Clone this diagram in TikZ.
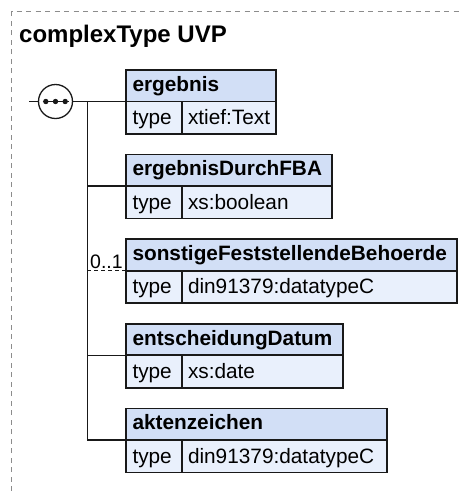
\documentclass[tikz,border=0pt]{standalone}
\usepackage{fontspec}
\setmainfont{Liberation Sans}
\definecolor{hdrfill}{RGB}{210,223,246}
\definecolor{bodyfill}{RGB}{233,240,252}
\definecolor{linec}{RGB}{25,25,25}
\definecolor{dashc}{RGB}{140,140,140}
\tikzset{
  boxline/.style={draw=linec, line width=1.7pt, outer sep=0pt, inner ysep=0pt},
  hdr/.style={boxline, fill=hdrfill, anchor=north west, minimum height=31.5pt,
    inner xsep=6.5pt, align=left, text height=11pt, text depth=0pt,
    font=\bfseries\fontsize{20.8}{24}\selectfont},
  typecell/.style={boxline, fill=bodyfill, anchor=north west, minimum height=32.5pt,
    inner xsep=6.5pt, text width=43pt, align=left, text height=14pt, text depth=0pt,
    font=\fontsize{20.8}{24}\selectfont},
  valcell/.style={boxline, fill=bodyfill, anchor=north west, minimum height=32.5pt,
    inner xsep=6pt, align=left, text height=14pt, text depth=0pt,
    font=\fontsize{20.8}{24}\selectfont},
  conn/.style={draw=linec, line width=1.3pt},
  optconn/.style={conn, dash pattern=on 4pt off 3pt},
  seqnode/.style={circle, draw=linec, fill=white, line width=1.3pt, minimum size=34pt, inner sep=0pt},
  occ/.style={anchor=base west, inner sep=0pt, font=\fontsize{19.5}{22}\selectfont},
  titletext/.style={anchor=base west, inner sep=0pt, font=\bfseries\fontsize{24}{28}\selectfont}
}
\newcommand\elembox[5]{%
  \node[hdr, text width=#3pt-139pt] (#1h) at (126,#2) {#4};
  \node[typecell] (#1t) at (#1h.south west) {type};
  \node[valcell, text width=#3pt-194pt] (#1v) at (#1t.north east) {#5};
}
\begin{document}
\begin{tikzpicture}[x=1pt,y=-1pt]
\useasboundingbox (0,0) rectangle (459,491);
\draw[dashc, line width=1.2pt, dash pattern=on 5pt off 4.5pt] (11.5,491) -- (11.5,11.5) -- (459,11.5);
\node[titletext] (title) at (19,42.3) {complexType UVP};

\elembox{a}{70}{276}{ergebnis}{xtief:Text}
\elembox{b}{154.6}{332}{ergebnisDurchFBA}{xs:boolean}
\elembox{c}{239.2}{457}{sonstigeFeststellendeBehoerde}{din91379:datatypeC}
\elembox{d}{323.8}{343}{entscheidungDatum}{xs:date}
\elembox{e}{408.4}{386.7}{aktenzeichen}{din91379:datatypeC}

\node[seqnode] (seq) at (55.5,101.5) {};
\draw[linec, line width=1.3pt] ([xshift=-13pt]seq.center) -- ([xshift=13pt]seq.center);
\foreach \dx in {-9.7,0,9.7}
  \fill[linec] ([xshift=\dx pt]seq.center) circle (2.7pt);
\coordinate (in) at (29.3,101.5);
\coordinate (bus) at (87.3,101.5);
\draw[conn] (in) -- (seq.west);
\draw[conn] (seq.east) -- (ah.south west);
\draw[conn] (bus) -- (bus |- eh.south west) -- (eh.south west);
\draw[conn] (bus |- bh.south west) -- (bh.south west);
\draw[optconn] (bus |- ch.south west) -- (ch.south west);
\draw[conn] (bus |- dh.south west) -- (dh.south west);
\node[occ] (occc) at (90,268.5) {0..1};
\end{tikzpicture}
\end{document}
